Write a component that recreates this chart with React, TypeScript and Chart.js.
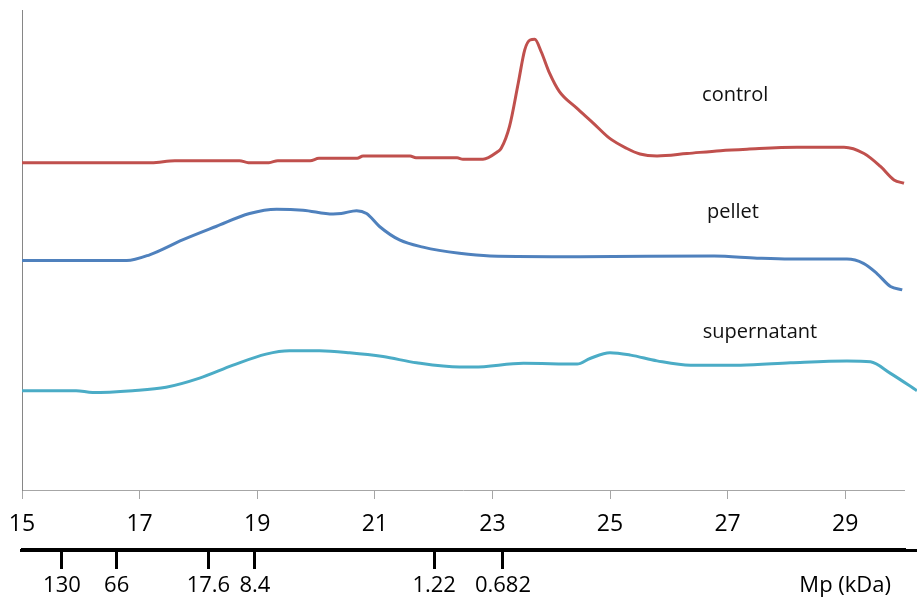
import React, { useEffect, useRef } from "react";
import { Chart, registerables } from "chart.js";

Chart.register(...registerables);

// Elution position (x) and relative signal (y) for each trace
const controlX = [15, 17.2, 17.6, 18.7, 18.85, 19.2, 19.35, 19.9, 20.05, 20.7, 20.8, 21.6, 21.7, 22.4, 22.5, 22.84, 23.08, 23.15, 23.29, 23.44, 23.55, 23.64, 23.72, 23.83, 23.97, 24.14, 24.43, 24.71, 24.99, 25.28, 25.51, 25.8, 26.31, 26.88, 27.33, 28.18, 28.98, 29.32, 29.6, 29.83, 30.0];
const controlY = [68.2, 68.2, 68.6, 68.6, 68.2, 68.2, 68.6, 68.6, 69.1, 69.1, 69.6, 69.6, 69.2, 69.2, 68.9, 68.9, 70.4, 71.2, 75.7, 84.8, 91.7, 93.75, 93.9, 91.3, 86.9, 83.0, 79.6, 76.5, 73.3, 71.2, 70.0, 69.6, 70.1, 70.7, 71.0, 71.4, 71.4, 70.1, 67.4, 64.6, 63.9];

const pelletX = [15, 16.78, 17.17, 17.73, 18.3, 18.87, 19.33, 19.78, 20.29, 20.43, 20.69, 20.86, 21.08, 21.42, 21.82, 22.44, 22.96, 24.49, 26.77, 27.5, 28.06, 29.03, 29.31, 29.54, 29.77, 29.97];
const pelletY = [47.8, 47.8, 49.0, 52.1, 54.9, 57.6, 58.5, 58.3, 57.5, 57.6, 58.2, 57.6, 54.9, 52.1, 50.6, 49.3, 48.75, 48.6, 48.75, 48.3, 48.1, 48.1, 47.2, 45.1, 42.4, 41.7];

const superX = [15, 15.92, 16.2, 16.88, 17.45, 18.02, 18.59, 19.15, 19.55, 20.06, 20.57, 21.14, 21.71, 22.44, 22.68, 23.53, 24.44, 24.66, 25.0, 25.35, 25.8, 26.37, 27.22, 28.07, 29.03, 29.43, 29.77, 30.22];
const superY = [20.7, 20.7, 20.3, 20.7, 21.4, 23.3, 26.0, 28.3, 29.0, 29.0, 28.6, 27.8, 26.5, 25.6, 25.6, 26.4, 26.25, 27.4, 28.6, 28.1, 26.9, 26.0, 26.0, 26.5, 26.9, 26.7, 24.3, 20.7];

// Series text labels (placed in data coordinates)
const seriesNames = ["control", "pellet", "supernatant"];
const seriesLabelX = [27.13, 27.09, 27.55];
const seriesLabelY = [82.3, 57.9, 32.9];

// Axis ticks
const elutionTicks = [15, 17, 19, 21, 23, 25, 27, 29];
const mpTickPositions = [15.68, 16.61, 18.17, 18.96, 22.01, 23.18, 29];
const mpTickLabels = ["130", "66", "17.6", "8.4", "1.22", "0.682", "Mp (kDa)"];

const toPoints = (xs: number[], ys: number[]) => xs.map((x, i) => ({ x, y: ys[i] }));

const seriesLabelPlugin = {
  id: "seriesLabels",
  afterDatasetsDraw(chart: any) {
    const { ctx, scales } = chart;
    ctx.save();
    ctx.font = '20px "Open Sans"';
    ctx.fillStyle = "#111";
    ctx.textAlign = "center";
    ctx.textBaseline = "middle";
    seriesNames.forEach((name, i) => {
      ctx.fillText(name, scales.x.getPixelForValue(seriesLabelX[i]), scales.y.getPixelForValue(seriesLabelY[i]));
    });
    ctx.restore();
  },
};

const extendMpAxisPlugin = {
  id: "extendMpAxis",
  afterDraw(chart: any) {
    const s = chart.scales.x2;
    if (!s) return;
    const ctx = chart.ctx;
    ctx.save();
    ctx.strokeStyle = "#000";
    ctx.lineWidth = 3;
    ctx.beginPath();
    const y = s.top + 1.5;
    ctx.moveTo(20, y);
    ctx.lineTo(chart.width, y);
    ctx.stroke();
    ctx.restore();
  },
};

export default function App() {
  const ref = useRef<HTMLCanvasElement | null>(null);

  useEffect(() => {
    if (!ref.current) return;
    const chart = new Chart(ref.current, {
      type: "line",
      data: {
        datasets: [
          { label: "control", data: toPoints(controlX, controlY), borderColor: "#C0504D", borderWidth: 3, pointRadius: 0, cubicInterpolationMode: "monotone", clip: false } as any,
          { label: "pellet", data: toPoints(pelletX, pelletY), borderColor: "#4F81BD", borderWidth: 3, pointRadius: 0, cubicInterpolationMode: "monotone", clip: false } as any,
          { label: "supernatant", data: toPoints(superX, superY), borderColor: "#4BACC6", borderWidth: 3, pointRadius: 0, cubicInterpolationMode: "monotone", clip: false } as any,
        ],
      },
      options: {
        responsive: false,
        animation: false,
        layout: { padding: { left: 22, right: 13, top: 10, bottom: 0 } },
        plugins: { legend: { display: false }, tooltip: { enabled: false } },
        scales: {
          x: {
            type: "linear",
            position: "bottom",
            weight: 0,
            min: 15,
            max: 30,
            afterBuildTicks: (scale: any) => {
              scale.ticks = elutionTicks.map((v) => ({ value: v }));
            },
            grid: { drawOnChartArea: false, tickLength: 9, tickColor: "#a6a6a6", tickWidth: 1 },
            border: { color: "#a6a6a6", width: 1 },
            ticks: {
              autoSkip: false,
              maxRotation: 0,
              padding: 0,
              color: "#000",
              font: { family: "Open Sans", size: 23, lineHeight: "50px" },
              callback: (v: any) => String(v),
            },
          },
          x2: {
            type: "linear",
            position: "bottom",
            weight: 1,
            min: 15,
            max: 30,
            afterBuildTicks: (scale: any) => {
              scale.ticks = mpTickPositions.map((v) => ({ value: v }));
            },
            grid: {
              drawOnChartArea: false,
              tickLength: 20,
              tickWidth: 3,
              lineWidth: 3,
              tickColor: (c: any) => (c.tick && c.tick.value === 29 ? "rgba(0,0,0,0)" : "#000"),
            },
            border: { color: "#000", width: 3 },
            ticks: {
              autoSkip: false,
              maxRotation: 0,
              padding: 0,
              color: "#000",
              font: { family: "Open Sans", size: 22, lineHeight: "34px" },
              callback: (_v: any, i: number) => mpTickLabels[i],
            },
          },
          y: {
            type: "linear",
            min: 0,
            max: 100,
            grid: { drawOnChartArea: false, drawTicks: false },
            border: { color: "#868686", width: 1 },
            ticks: { display: false },
          },
        },
      } as any,
      plugins: [seriesLabelPlugin, extendMpAxisPlugin],
    });
    return () => chart.destroy();
  }, []);

  return (
    <div style={{ position: "fixed", left: 0, top: 0, width: 917, height: 603, background: "#fff" }}>
      <canvas ref={ref} width={917} height={603} style={{ display: "block" }} />
    </div>
  );
}
